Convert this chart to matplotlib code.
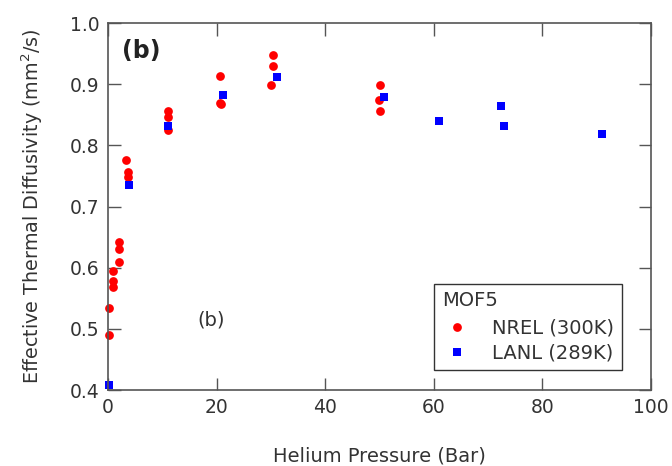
import matplotlib
matplotlib.use("Agg")
import matplotlib.pyplot as plt

# NREL (300K) data, red circles
nrel_p = [0.25, 0.25, 0.9, 0.9, 0.9, 2.1, 2.1, 2.1, 3.3, 3.6, 3.6,
          11.0, 11.0, 11.0, 20.6, 20.6, 20.9, 30.0, 30.3, 30.3,
          49.9, 50.1, 50.1]
nrel_d = [0.534, 0.490, 0.595, 0.579, 0.568, 0.642, 0.631, 0.609, 0.776, 0.756, 0.749,
          0.856, 0.847, 0.825, 0.913, 0.869, 0.867, 0.899, 0.929, 0.948,
          0.874, 0.899, 0.856]

# LANL (289K) data, blue squares
lanl_p = [0.25, 3.9, 11.0, 21.1, 31.1, 50.9, 60.9, 72.4, 73.0, 90.9]
lanl_d = [0.408, 0.735, 0.832, 0.883, 0.911, 0.879, 0.840, 0.865, 0.831, 0.819]

xticks = [0, 20, 40, 60, 80, 100]
yticks = [0.4, 0.5, 0.6, 0.7, 0.8, 0.9, 1.0]

plt.rcParams['font.family'] = ['DejaVu Sans']
txt = '#333333'

fig = plt.figure(figsize=(6.72, 4.66), dpi=100)
ax = fig.add_axes([0.1607, 0.163, 0.808, 0.7876])

ax.plot(nrel_p, nrel_d, 'o', color='#ff0000', markersize=6.3, markeredgewidth=0,
        label='NREL (300K)', clip_on=False)
ax.plot(lanl_p, lanl_d, 's', color='#0000ff', markersize=6.3, markeredgewidth=0,
        label='LANL (289K)', clip_on=False)

ax.set_xlim(0, 100)
ax.set_ylim(0.4, 1.0)
ax.set_xticks(xticks)
ax.set_yticks(yticks)
ax.set_xticklabels([str(t) for t in xticks])
ax.set_yticklabels(['%.1f' % t for t in yticks])
ax.tick_params(direction='in', length=9, width=1, top=True, right=True,
               labelsize=13.5, color='#555555', labelcolor=txt, pad=6)
for s in ax.spines.values():
    s.set_color('#555555')
    s.set_linewidth(1.2)

ax.set_xlabel('Helium Pressure (Bar)', fontsize=14, labelpad=21, color=txt)
ax.set_ylabel('Effective Thermal Diffusivity (mm$^2$/s)', fontsize=13.8, labelpad=18,
              color=txt)

ax.text(0.025, 0.925, '(b)', transform=ax.transAxes, fontsize=17, fontweight='bold',
        color='#222222', va='center')
ax.text(0.165, 0.19, '(b)', transform=ax.transAxes, fontsize=14, color=txt,
        va='center')

leg = ax.legend(title='MOF5', loc='lower right', bbox_to_anchor=(0.947, 0.054),
                borderaxespad=0, fontsize=14, title_fontsize=14, fancybox=False,
                framealpha=1, edgecolor='#333333', handletextpad=1.0,
                handlelength=1.6, borderpad=0.4, labelspacing=0.3)
leg._legend_box.align = 'left'
leg._legend_box.sep = 6
leg.get_frame().set_linewidth(1)
for t in leg.get_texts():
    t.set_color(txt)
leg.get_title().set_color(txt)

fig.savefig('out.png', dpi=100)
